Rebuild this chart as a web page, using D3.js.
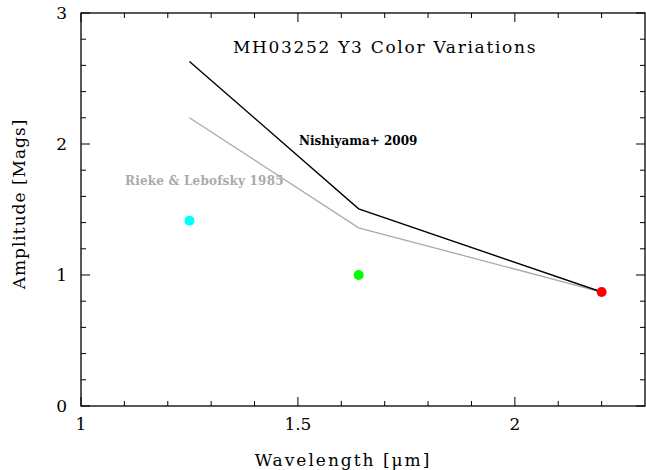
<!DOCTYPE html>
<html><head><meta charset="utf-8">
<script src="https://cdn.jsdelivr.net/npm/d3@7"></script>
<style>body{margin:0;background:#fff}svg{display:block}</style>
</head><body>
<script>
const wavelengths = [1.25, 1.64, 2.2];
const nishiyama = [2.63, 1.505, 0.87];
const rieke = [2.2, 1.36, 0.87];
const pointValues = [1.415, 1.0, 0.87];
const pointColors = ["#00ffff", "#00ff00", "#ff0000"];
const xTicks = [1, 1.5, 2];
const yTicks = [0, 1, 2, 3];

const W = 646, H = 470;
const m = {left: 81, right: 645, top: 13, bottom: 406};
const svg = d3.select("body").append("svg").attr("width", W).attr("height", H);
const x = d3.scaleLinear().domain([1, 2.3]).range([m.left, m.right]);
const y = d3.scaleLinear().domain([0, 3]).range([m.bottom, m.top]);
const font = "'DejaVu Serif', serif";

// frame
svg.append("rect").attr("x", m.left).attr("y", m.top).attr("width", m.right - m.left).attr("height", m.bottom - m.top)
  .attr("fill", "none").attr("stroke", "#000").attr("stroke-width", 1.3);

const xMinor = d3.range(11, 23).map(d => d / 10);
const yMinor = d3.range(1, 15).map(d => d / 5);
function ticks(vals, len, axis) {
  vals.forEach(v => {
    if (axis === "x") {
      const px = x(v);
      svg.append("line").attr("x1", px).attr("x2", px).attr("y1", m.bottom).attr("y2", m.bottom - len).attr("stroke", "#000");
      svg.append("line").attr("x1", px).attr("x2", px).attr("y1", m.top).attr("y2", m.top + len).attr("stroke", "#000");
    } else {
      const py = y(v);
      svg.append("line").attr("y1", py).attr("y2", py).attr("x1", m.left).attr("x2", m.left + len).attr("stroke", "#000");
      svg.append("line").attr("y1", py).attr("y2", py).attr("x1", m.right).attr("x2", m.right - len).attr("stroke", "#000");
    }
  });
}
ticks(xMinor.filter(v => !xTicks.some(t => Math.abs(t - v) < 1e-6)), 5, "x");
ticks(xTicks, 9, "x");
ticks(yMinor.filter(v => !yTicks.some(t => Math.abs(t - v) < 1e-6)), 5, "y");
ticks(yTicks, 9, "y");

svg.selectAll(".xl").data(xTicks).enter().append("text")
  .attr("x", d => x(d)).attr("y", 430).attr("text-anchor", "middle")
  .attr("font-family", font).attr("font-size", 17).text(d => d);
svg.selectAll(".yl").data(yTicks).enter().append("text")
  .attr("x", 67).attr("y", d => y(d) + 6).attr("text-anchor", "end")
  .attr("font-family", font).attr("font-size", 17).text(d => d);

svg.append("text").attr("x", 343).attr("y", 466).attr("text-anchor", "middle")
  .attr("font-family", font).attr("font-size", 17).attr("letter-spacing", 2).text("Wavelength [μm]");
svg.append("text").attr("transform", "translate(25,204) rotate(-90)").attr("text-anchor", "middle")
  .attr("font-family", font).attr("font-size", 17).attr("letter-spacing", 1).text("Amplitude [Mags]");

svg.append("text").attr("x", 385).attr("y", 53).attr("text-anchor", "middle")
  .attr("font-family", font).attr("font-size", 17).attr("letter-spacing", 1.7).text("MH03252 Y3 Color Variations");

const line = d3.line().x((d, i) => x(wavelengths[i])).y(d => y(d));
svg.append("path").datum(rieke).attr("d", line).attr("fill", "none").attr("stroke", "#aaaaaa").attr("stroke-width", 1.3);
svg.append("path").datum(nishiyama).attr("d", line).attr("fill", "none").attr("stroke", "#000").attr("stroke-width", 1.4);

svg.selectAll(".pt").data(pointValues).enter().append("circle")
  .attr("cx", (d, i) => x(wavelengths[i])).attr("cy", d => y(d)).attr("r", 5)
  .attr("fill", (d, i) => pointColors[i]);

svg.append("text").attr("x", 299).attr("y", 145).attr("font-family", font).attr("font-weight", "bold")
  .attr("font-size", 12).text("Nishiyama+ 2009");
svg.append("text").attr("x", 125).attr("y", 185).attr("font-family", font).attr("font-weight", "bold")
  .attr("font-size", 12).attr("letter-spacing", 0.2).attr("fill", "#aaaaaa").text("Rieke & Lebofsky 1985");
</script>
</body></html>
